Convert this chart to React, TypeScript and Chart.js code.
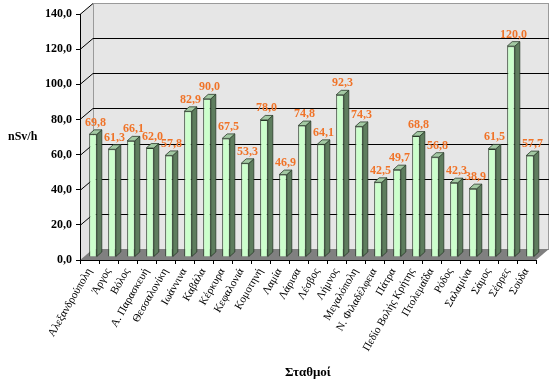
import React, { useEffect, useRef } from "react";
import { Chart, registerables } from "chart.js";

Chart.register(...registerables);

const stations: string[] = [
  "Αλεξανδρούπολη", "Άργος", "Βόλος", "Α. Παρασκευή", "Θεσσαλονίκη", "Ιωάννινα",
  "Καβάλα", "Κέρκυρα", "Κεφαλονιά", "Κομοτηνή", "Λαμία", "Λάρισα", "Λέσβος",
  "Λήμνος", "Μεγαλόπολη", "Ν. Φιλαδέλφεια", "Πάτρα", "Πεδίο Βολής Κρήτης",
  "Πτολεμαΐδα", "Ρόδος", "Σαλαμίνα", "Σάμος", "Σέρρες", "Σούδα",
];
const doseRates: number[] = [
  69.8, 61.3, 66.1, 62.0, 57.8, 82.9, 90.0, 67.5, 53.3, 78.0, 46.9, 74.8, 64.1,
  92.3, 74.3, 42.5, 49.7, 68.8, 56.8, 42.3, 38.9, 61.5, 120.0, 57.7,
];
const yMin = 0;
const yMax = 140;
const yStep = 20;
const yTitle = "nSv/h";
const xTitle = "Σταθμοί";

const SERIF = "'Liberation Serif', 'Times New Roman', serif";
const fmt = (v: number) => v.toFixed(1).replace(".", ",");

// depth geometry (px)
const WALL_DX = 13;
const WALL_DY = -11;
const BAR_SHIFT_X = 3.5;
const BAR_SHIFT_Y = -3;
const BAR_DX = 5;
const BAR_DY = -4.5;

const threeD = {
  id: "threeD",
  beforeDraw(chart: any) {
    const { ctx, chartArea: a, scales } = chart;
    const y = scales.y;
    ctx.save();
    // left side wall
    ctx.fillStyle = "#e2e2e2";
    ctx.beginPath();
    ctx.moveTo(a.left, a.bottom);
    ctx.lineTo(a.left, a.top);
    ctx.lineTo(a.left + WALL_DX, a.top + WALL_DY);
    ctx.lineTo(a.left + WALL_DX, a.bottom + WALL_DY);
    ctx.closePath();
    ctx.fill();
    // back wall
    ctx.fillStyle = "#e6e6e6";
    ctx.fillRect(a.left + WALL_DX, a.top + WALL_DY, a.right - a.left, a.bottom - a.top);
    ctx.strokeStyle = "#9a9a9a";
    ctx.lineWidth = 1;
    ctx.strokeRect(a.left + WALL_DX + 0.5, a.top + WALL_DY + 0.5, a.right - a.left - 1, a.bottom - a.top);
    // gridlines
    ctx.strokeStyle = "#000";
    ctx.lineWidth = 1;
    for (let v = yMin + yStep; v <= yMax; v += yStep) {
      const py = Math.round(y.getPixelForValue(v)) + 0.5;
      ctx.beginPath();
      ctx.moveTo(a.left, py);
      ctx.lineTo(a.left + WALL_DX, py + WALL_DY);
      if (v < yMax) ctx.lineTo(a.right + WALL_DX, py + WALL_DY);
      ctx.stroke();
    }
    // floor
    ctx.fillStyle = "#808080";
    ctx.beginPath();
    ctx.moveTo(a.left, a.bottom);
    ctx.lineTo(a.left + WALL_DX, a.bottom + WALL_DY);
    ctx.lineTo(a.right + WALL_DX, a.bottom + WALL_DY);
    ctx.lineTo(a.right, a.bottom);
    ctx.closePath();
    ctx.fill();
    // y title (horizontal)
    ctx.fillStyle = "#000";
    ctx.font = "bold 12px " + SERIF;
    ctx.textAlign = "left";
    ctx.textBaseline = "middle";
    ctx.fillText(yTitle, 8, 137);
    ctx.restore();
  },
  beforeDatasetsDraw(chart: any) {
    chart.ctx.save();
    chart.ctx.translate(BAR_SHIFT_X, BAR_SHIFT_Y);
  },
  afterDatasetsDraw(chart: any) {
    const { ctx } = chart;
    const meta = chart.getDatasetMeta(0);
    meta.data.forEach((bar: any, i: number) => {
      const { x, y, base, width } = bar.getProps(["x", "y", "base", "width"], true);
      const l = x - width / 2;
      const r = x + width / 2;
      // side
      ctx.fillStyle = "#5e7d5e";
      ctx.strokeStyle = "#2a3a2a";
      ctx.lineWidth = 0.8;
      ctx.beginPath();
      ctx.moveTo(r, y);
      ctx.lineTo(r + BAR_DX, y + BAR_DY);
      ctx.lineTo(r + BAR_DX, base + BAR_DY);
      ctx.lineTo(r, base);
      ctx.closePath();
      ctx.fill();
      ctx.stroke();
      // top
      ctx.fillStyle = "#a3c9a3";
      ctx.beginPath();
      ctx.moveTo(l, y);
      ctx.lineTo(l + BAR_DX, y + BAR_DY);
      ctx.lineTo(r + BAR_DX, y + BAR_DY);
      ctx.lineTo(r, y);
      ctx.closePath();
      ctx.fill();
      ctx.stroke();
      // label
      ctx.fillStyle = "#f07328";
      ctx.font = "bold 12px " + SERIF;
      ctx.textAlign = "center";
      ctx.textBaseline = "alphabetic";
      ctx.fillText(fmt(doseRates[i]), x + BAR_DX / 2, y + BAR_DY - 4);
    });
    ctx.restore();
  },
};

export default function App() {
  const ref = useRef<HTMLCanvasElement>(null);
  useEffect(() => {
    document.body.style.margin = "0";
    const canvas = ref.current!;
    const chart = new Chart(canvas, {
      type: "bar",
      data: {
        labels: stations,
        datasets: [
          {
            data: doseRates,
            backgroundColor: "#ccffcc",
            borderColor: "#2a3a2a",
            borderWidth: 1,
            barPercentage: 0.8,
            categoryPercentage: 0.5,
            clip: false as any,
          },
        ],
      },
      options: {
        responsive: false,
        animation: false,
        devicePixelRatio: 1,
        layout: { padding: { top: 14, right: 15, left: 0, bottom: 0 } },
        plugins: { legend: { display: false }, tooltip: { enabled: false } },
        scales: {
          x: {
            offset: true,
            grid: { offset: true, drawOnChartArea: false, tickLength: 4, color: "#000" },
            border: { display: true, color: "#000" },
            ticks: {
              autoSkip: false,
              maxRotation: 60,
              minRotation: 60,
              padding: 2,
              color: "#000",
              font: { family: SERIF, size: 11 },
            },
            title: {
              display: true,
              text: xTitle,
              color: "#000",
              font: { family: SERIF, size: 13, weight: "bold" },
              padding: { top: 0, bottom: 5 },
            },
            afterFit: (s: any) => {
              s.height = 125;
            },
          },
          y: {
            min: yMin,
            max: yMax,
            grid: { drawOnChartArea: false, tickLength: 4, color: "#000" },
            border: { display: true, color: "#000" },
            ticks: {
              stepSize: yStep,
              padding: 4,
              color: "#000",
              font: { family: SERIF, size: 12, weight: "bold" },
              callback: (v: any) => fmt(Number(v)),
            },
            afterFit: (s: any) => {
              s.width = 80;
            },
          },
        },
      },
      plugins: [threeD],
    });
    return () => chart.destroy();
  }, []);
  return (
    <div style={{ width: 551, height: 385, background: "#fff" }}>
      <canvas ref={ref} width={551} height={385} style={{ display: "block" }} />
    </div>
  );
}
